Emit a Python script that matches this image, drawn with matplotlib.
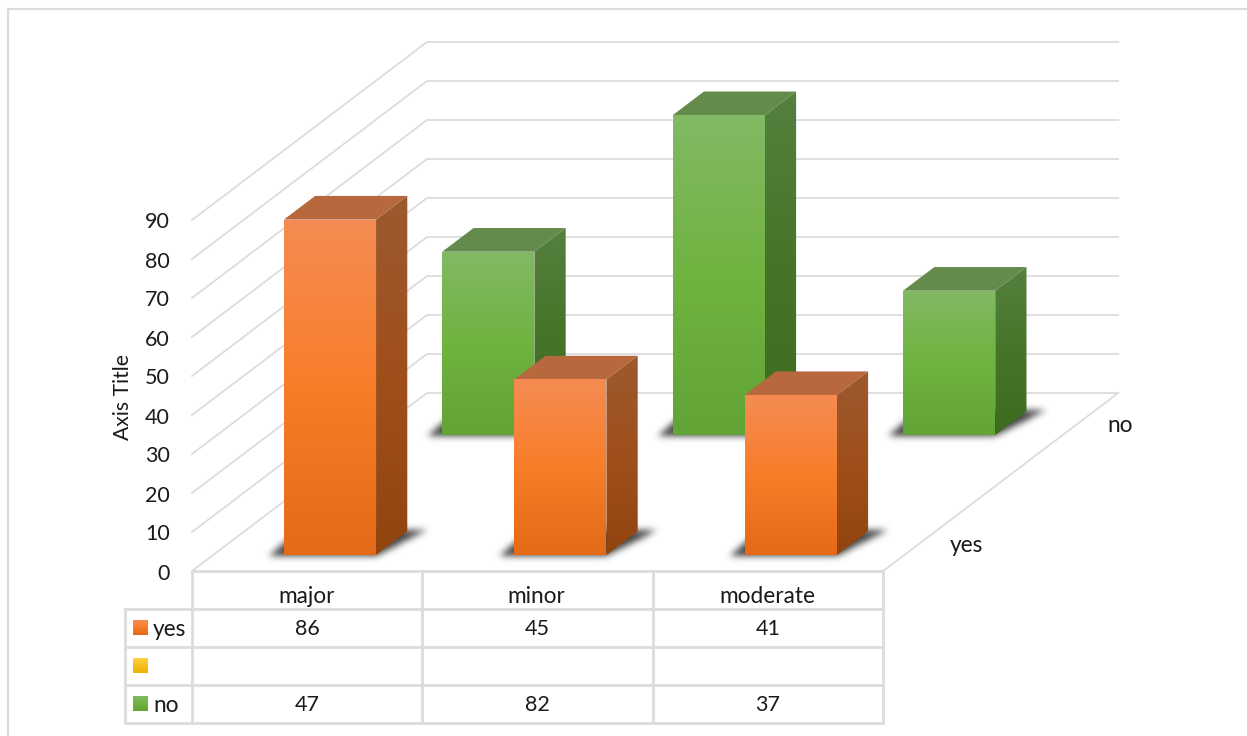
import numpy as np
import matplotlib
matplotlib.use("Agg")
import matplotlib.pyplot as plt
from matplotlib.colors import to_rgb
from matplotlib.patches import Polygon
from matplotlib.path import Path

categories = ["major", "minor", "moderate"]
yes_values = [86, 45, 41]
no_values = [47, 82, 37]
blank_values = [None, None, None]
value_ticks = list(range(0, 100, 10))

plt.rcParams["font.family"] = ["Lato", "DejaVu Sans"]
W, H = 1247, 736
fig = plt.figure(figsize=(W / 100, H / 100), dpi=100)
ax = fig.add_axes([0, 0, 1, 1])

GRID = "#DCDCDC"
TEXT = "#1A1A1A"
FS = 15.5
FS_WORD = 16.3

# Oblique projection of the 3-D column chart into figure pixels
ORIGIN = np.array([192.0, 571.0])
CAT_W = 230.4
UNIT_H = 3.9
DEPTH = np.array([235.0, -178.0])
BAR_X0, BAR_X1 = 0.307, 0.307 + 0.4
BAR_DEPTH = 0.133
YES_D, NO_D = 0.09, 0.764


def project(cat, depth, value):
    x = ORIGIN[0] + cat * CAT_W + depth * DEPTH[0]
    y = ORIGIN[1] - value * UNIT_H + depth * DEPTH[1]
    return (x, y)


def gradient_poly(points, stops, z):
    pts = np.array(points)
    x0, x1 = pts[:, 0].min(), pts[:, 0].max()
    y0, y1 = pts[:, 1].min(), pts[:, 1].max()
    t = np.linspace(0, 1, 256)
    positions = [s[0] for s in stops]
    rgb = np.array([to_rgb(s[1]) for s in stops])
    img = np.stack([np.interp(t, positions, rgb[:, i]) for i in range(3)], axis=1)
    im = ax.imshow(img[:, None, :], extent=(x0, x1, y1, y0), aspect="auto",
                   zorder=z, interpolation="bilinear")
    im.set_clip_path(Polygon(points, closed=True, transform=ax.transData))


def soft_shadow(points, z, sigma=3.4, strength=0.92):
    pts = np.array(points)
    pad = 14
    x0, x1 = int(pts[:, 0].min()) - pad, int(pts[:, 0].max()) + pad
    y0, y1 = int(pts[:, 1].min()) - pad, int(pts[:, 1].max()) + pad
    xs, ys = np.meshgrid(np.arange(x0, x1) + 0.5, np.arange(y0, y1) + 0.5)
    mask = Path(pts).contains_points(np.c_[xs.ravel(), ys.ravel()]).reshape(xs.shape).astype(float)
    r = np.arange(-10, 11)
    kernel = np.exp(-r ** 2 / (2 * sigma ** 2))
    kernel /= kernel.sum()
    mask = np.apply_along_axis(lambda row: np.convolve(row, kernel, mode="same"), 1, mask)
    mask = np.apply_along_axis(lambda col: np.convolve(col, kernel, mode="same"), 0, mask)
    rgba = np.zeros(mask.shape + (4,))
    rgba[..., :3] = 0.2
    rgba[..., 3] = np.clip(mask, 0, 1) * strength
    ax.imshow(rgba, extent=(x0, x1, y1, y0), aspect="auto", zorder=z, interpolation="bilinear")


def draw_bar(cat, depth, value, palette, z):
    a = cat + BAR_X0
    b = cat + BAR_X1
    d = depth
    e = depth + BAR_DEPTH
    fl0, fr0 = project(a, d, 0), project(b, d, 0)
    fl1, fr1 = project(a, d, value), project(b, d, value)
    bl1, br1 = project(a, e, value), project(b, e, value)
    br0 = project(b, e, 0)

    # Contact shadow on the floor
    soft_shadow([(fl0[0] - 15, fl0[1] + 1), (fr0[0], fr0[1] + 1), (br0[0] + 19, br0[1] - 1),
                 (fl0[0] + 15, br0[1] - 1)], z)

    gradient_poly([fl1, fr1, fr0, fl0], palette["front"], z + 0.3)
    gradient_poly([fr1, br1, br0, fr0], palette["side"], z + 0.2)
    ax.add_patch(Polygon([fl1, fr1, br1, bl1], closed=True, fc=palette["top"], ec="none", zorder=z + 0.2))


ORANGE = {
    "front": [(0, "#F58C53"), (0.5, "#F87D29"), (1, "#E46A17")],
    "side": [(0, "#9C5A30"), (0.5, "#A04F1B"), (1, "#91450E")],
    "top": "#B7683D",
}
GREEN = {
    "front": [(0, "#82B964"), (0.5, "#6FB340"), (1, "#62A436")],
    "side": [(0, "#55803F"), (0.5, "#467529"), (1, "#3D6B20")],
    "top": "#648B4C",
}
GOLD = {"front": [(0, "#FFCF40"), (1, "#EDB200")]}

# Outer chart border, open towards the right and bottom edges
ax.plot([8, 8, W], [H, 9, 9], color=GRID, lw=1.6, zorder=1)

# Wall gridlines
for v in value_ticks:
    a = project(0, 0, v)
    b = project(0, 1, v)
    c = project(3, 1, v)
    ax.plot([a[0], b[0], c[0]], [a[1], b[1], c[1]], color=GRID, lw=1.3, zorder=1, solid_joinstyle="miter")
    ax.text(170, a[1] + 2.5, str(v), ha="right", va="center", fontsize=FS, color=TEXT, zorder=6)

# Floor edge on the right
p0, p1 = project(3, 1, 0), project(3, 0, 0)
ax.plot([p0[0], p1[0]], [p0[1], p1[1]], color=GRID, lw=1.3, zorder=1)

ax.text(123, 397.5, "Axis Title", rotation=90, ha="center", va="center", fontsize=FS - 0.3, color=TEXT)
ax.text(1120.5, 425, "no", ha="center", va="center", fontsize=FS_WORD, color=TEXT)
ax.text(966, 545, "yes", ha="center", va="center", fontsize=FS_WORD, color=TEXT)

# Columns, back row first so the front row overlaps it
for i, v in enumerate(no_values):
    draw_bar(i, NO_D, v, GREEN, 2 + i)
for i, v in enumerate(yes_values):
    draw_bar(i, YES_D, v, ORANGE, 3.5 + i)

# Data table below the floor
col_x = [ORIGIN[0] + i * CAT_W for i in range(len(categories) + 1)]
row_y = [571, 609, 647, 685, 723]
LEG_X = 125
ax.plot([col_x[0], col_x[-1]], [row_y[0], row_y[0]], color=GRID, lw=2, zorder=7)
for y in row_y[1:]:
    ax.plot([LEG_X, col_x[-1]], [y, y], color=GRID, lw=2, zorder=7)
ax.plot([LEG_X, LEG_X], [row_y[1], row_y[-1]], color=GRID, lw=2, zorder=7)
for x in col_x:
    ax.plot([x, x], [row_y[0], row_y[-1]], color=GRID, lw=2, zorder=7)

rows = [("yes", yes_values, ORANGE), ("", blank_values, GOLD), ("no", no_values, GREEN)]
for i, name in enumerate(categories):
    ax.text(col_x[i] + CAT_W / 2 - 1, 596.5, name, ha="center", va="center", fontsize=FS_WORD, color=TEXT, zorder=8)
for r, (label, values, pal) in enumerate(rows):
    yc = (row_y[r + 1] + row_y[r + 2]) / 2
    gradient_poly([(133, yc - 8), (148, yc - 8), (148, yc + 7), (133, yc + 7)], pal["front"], 8)
    if label:
        ax.text(153, yc + 1, label, ha="left", va="center", fontsize=FS_WORD, color=TEXT, zorder=8)
    for i, v in enumerate(values):
        if v is not None:
            ax.text(col_x[i] + CAT_W / 2, yc + 1, str(v), ha="center", va="center", fontsize=FS, color=TEXT, zorder=8)

ax.set_xlim(0, W)
ax.set_ylim(H, 0)
ax.axis("off")
fig.savefig("out.png", dpi=100, facecolor="white")
